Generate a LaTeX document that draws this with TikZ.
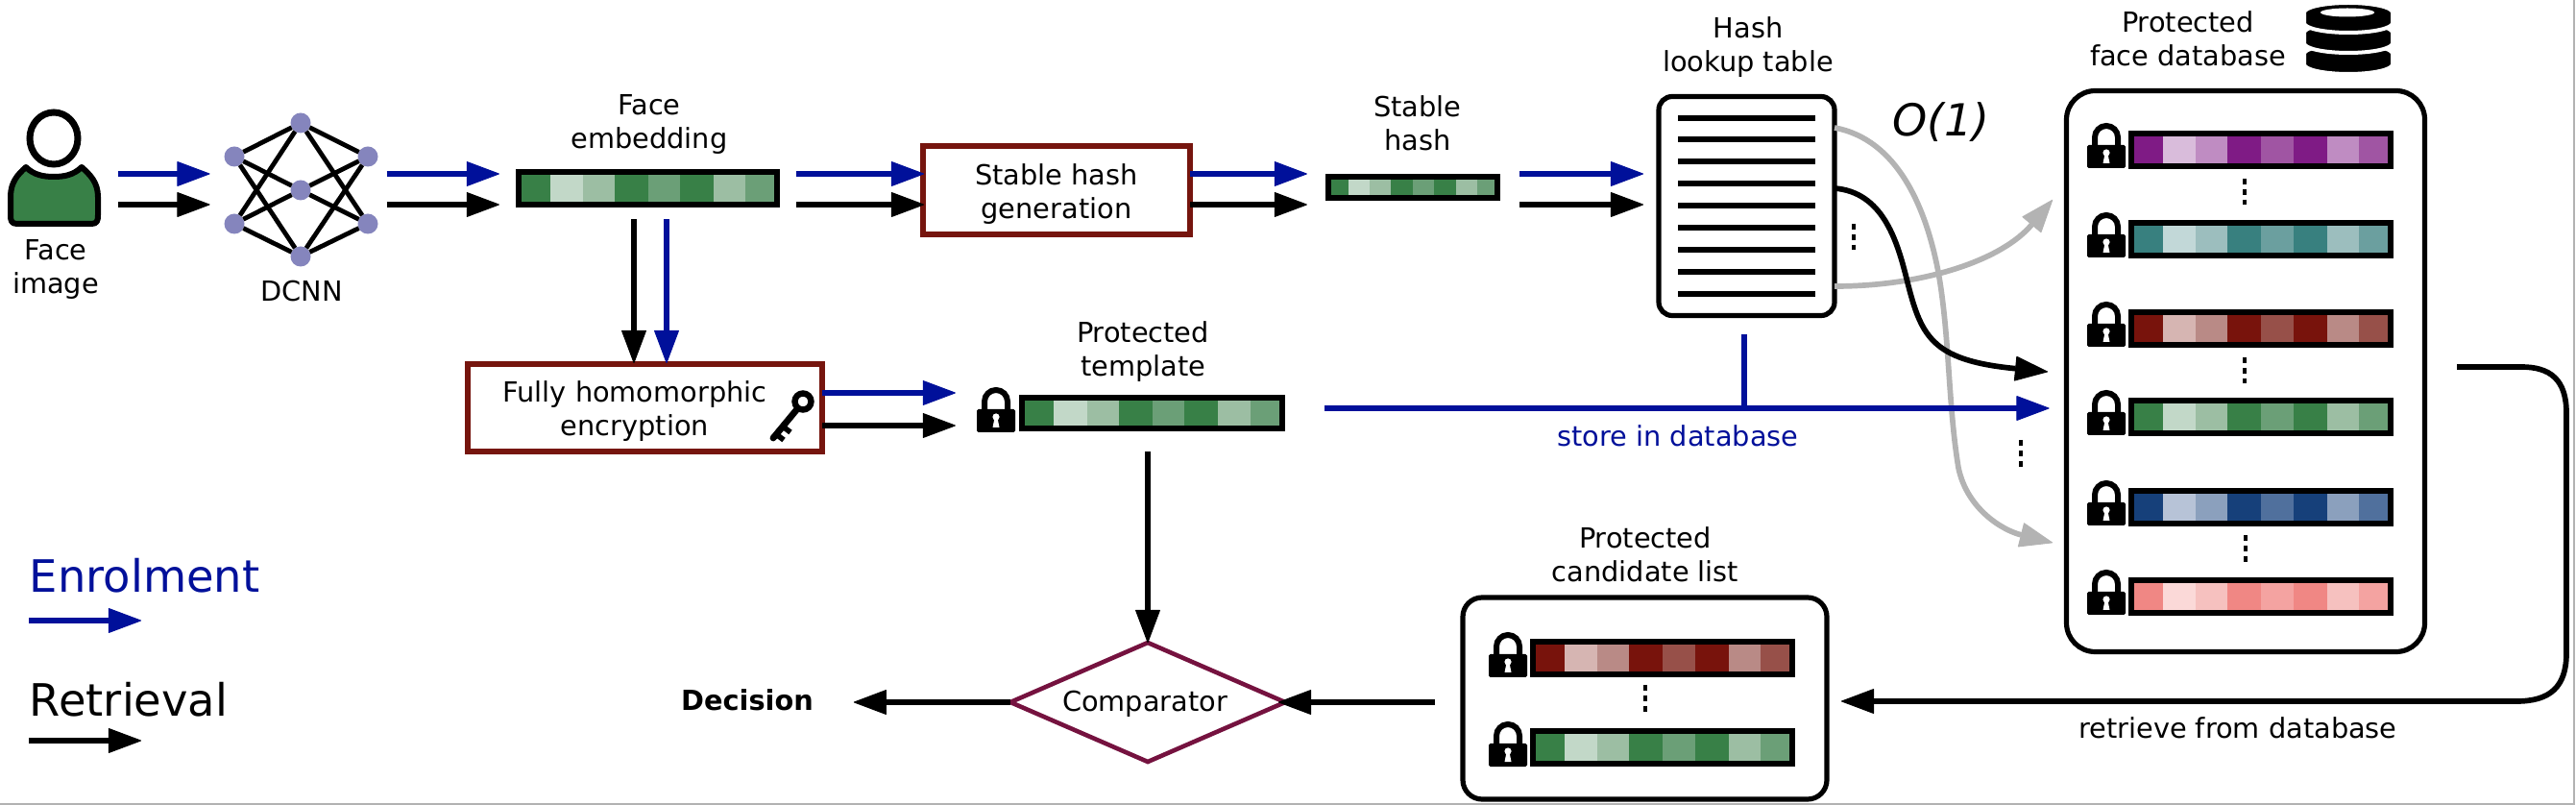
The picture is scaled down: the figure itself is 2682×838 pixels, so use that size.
\documentclass[tikz,border=0pt]{standalone}
\usepackage{fontspec}
\setmainfont{DejaVu Sans}
\usetikzlibrary{arrows.meta,shapes.geometric,fit}
\definecolor{enr}{HTML}{00109A}
\definecolor{boxred}{HTML}{76150E}
\definecolor{diamondc}{HTML}{75123F}
\definecolor{nncol}{HTML}{8585BD}
\definecolor{grayc}{HTML}{B3B3B3}
\definecolor{gA}{HTML}{388047}\definecolor{gB}{HTML}{C2D8C8}\definecolor{gC}{HTML}{9CBEA3}\definecolor{gD}{HTML}{6B9F77}
\definecolor{pA}{HTML}{7F1B85}\definecolor{pB}{HTML}{D9BCDB}\definecolor{pC}{HTML}{BF8CC2}\definecolor{pD}{HTML}{A055A3}
\definecolor{tA}{HTML}{38807F}\definecolor{tB}{HTML}{C2D8D8}\definecolor{tC}{HTML}{9CBEBE}\definecolor{tD}{HTML}{6B9F9F}
\definecolor{rA}{HTML}{78130C}\definecolor{rB}{HTML}{D6B5B2}\definecolor{rC}{HTML}{B98A86}\definecolor{rD}{HTML}{975049}
\definecolor{bA}{HTML}{16407A}\definecolor{bB}{HTML}{B7C3D7}\definecolor{bC}{HTML}{8BA0BD}\definecolor{bD}{HTML}{50709D}
\definecolor{kA}{HTML}{F08784}\definecolor{kB}{HTML}{FBD9D8}\definecolor{kC}{HTML}{F6C1BF}\definecolor{kD}{HTML}{F4A3A1}
\tikzset{
  x=0.5pt,y=-0.5pt,
  every node/.style={inner sep=0pt,outer sep=0pt},
  lab/.style={align=center,font=\fontsize{14.4pt}{17.5pt}\selectfont},
  tipr/.style={-{Triangle[length=17.5pt,width=13pt,line width=0.5pt,round]}},
  enrol/.style={draw=enr,line width=2.85pt,tipr},
  retr/.style={draw=black,line width=2.85pt,tipr},
  grayarrow/.style={draw=grayc,line width=2.85pt,tipr},
  redbox/.style={draw=boxred,line width=2.85pt,fill=white,rectangle},
  barframe/.style={draw=black,line width=2.85pt,rectangle},
  nnode/.style={circle,fill=nncol,minimum size=10.5pt},
  nnedge/.style={draw=black,line width=2.4pt},
  holder/.style={rounded corners=13pt,draw=black,line width=2.6pt,rectangle},
  dotsv/.style={draw=black,line width=2pt,dash pattern=on 3.2pt off 2.2pt},
}
\newcommand\cellbar[6]{%
  \pgfmathsetmacro\cbw{#4-#2}
  \foreach \cbp/\cbc in {0/A,.131/B,.2545/C,.3745/A,.5/D,.622/A,.749/C,.869/D}{
    \fill[fill=#6\cbc] ({#2+\cbp*\cbw},#3) rectangle (#4,#5);}
  \node[barframe,minimum width={(#4-#2-5.7)*0.5pt},minimum height={(#5-#3-5.7)*0.5pt}] (#1) at ({(#2+#4)/2},{(#3+#5)/2}) {};
}
\newcommand\lockat[2]{%
  \begin{scope}[shift={(#1,#2)}]
    \fill[black,rounded corners=0.8pt] (0,23) rectangle (40,47);
    \draw[black,line width=3pt] (8,26) -- (8,15) arc[start angle=180,end angle=360,radius=12] -- (32,26);
    \fill[white] (20,31) circle[radius=3.6];
    \fill[white] (18.5,32) -- (21.5,32) -- (23.5,42) -- (16.5,42) -- cycle;
  \end{scope}}
\newcommand\diskat[1]{%
  \draw[draw=white,fill=black,line width=2pt] (2399,#1) -- (2399,#1+11) arc[start angle=180,end angle=0,x radius=46,y radius=10] -- (2491,#1) arc[start angle=0,end angle=-180,x radius=46,y radius=10] -- cycle;}
\begin{document}
\begin{tikzpicture}
\useasboundingbox (0,0) rectangle (2682,838);
\fill[white] (0,0) rectangle (2682,838);
\draw[gray!60,line width=1pt] (0,836.5) -- (2680,836.5) -- (2680,0);
% helper coordinates for the two parallel flows
\coordinate (en) at (0,181);
\coordinate (re) at (0,213);
% person
\node[minimum width=49.5pt,minimum height=61pt] (person) at (56.5,175.5) {};
\draw[black,line width=3pt,fill=gA,line join=round] (18,233) .. controls (12,233) and (11,230) .. (11,224) -- (11,205) .. controls (11,190) and (18,182) .. (27,174) .. controls (35,182) and (45,184) .. (56,184) .. controls (67,184) and (77,182) .. (85,174) .. controls (94,182) and (102,190) .. (102,205) -- (102,224) .. controls (102,230) and (101,233) .. (95,233) -- cycle;
\draw[black,line width=3.5pt,fill=white] (56,144) ellipse[x radius=25,y radius=27];
\node[lab] (lface) at (58,281) {Face\\image};
% network
\node[nnode] (n1) at (313,128) {};
\node[nnode] (n2) at (244,163) {};
\node[nnode] (n3) at (383,163) {};
\node[nnode] (n4) at (313,198) {};
\node[nnode] (n5) at (244,233) {};
\node[nnode] (n6) at (383,233) {};
\node[nnode] (n7) at (313,267) {};
\foreach \na/\nb in {n1/n2,n1/n3,n1/n5,n1/n6,n7/n2,n7/n3,n7/n5,n7/n6,n4/n2,n4/n3,n4/n5,n4/n6}
  \draw[nnedge] (\na) -- (\nb);
\node[fit=(n1)(n2)(n3)(n5)(n6)(n7)] (dcnn) {};
\node[lab] (ldcnn) at (314,303) {DCNN};
% embedding
\cellbar{emb}{537}{176}{812}{216}{g}
\node[lab] (lemb) at (676,130) {Face\\embedding};
\draw[enrol,shorten <=8.5pt,shorten >=7.5pt] (person.east |- en) -- (dcnn.west |- en);
\draw[retr,shorten <=8.5pt,shorten >=7.5pt] (person.east |- re) -- (dcnn.west |- re);
\draw[enrol,shorten <=4.5pt,shorten >=10pt] (dcnn.east |- en) -- (emb.west |- en);
\draw[retr,shorten <=4.5pt,shorten >=10pt] (dcnn.east |- re) -- (emb.west |- re);
% stable hash generation
\node[redbox,minimum width=139pt,minimum height=46pt] (gen) at (1100,198) {};
\draw[enrol,shorten <=10pt,shorten >=-0.5pt] (emb.east |- en) -- (gen.west |- en);
\draw[retr,shorten <=10pt,shorten >=-0.5pt] (emb.east |- re) -- (gen.west |- re);
\node[lab] (lgen) at (1100,202) {Stable hash\\generation};
% stable hash
\cellbar{hash}{1380}{181}{1562}{209}{g}
\node[lab] (lhash) at (1476,128) {Stable\\hash};
\draw[enrol,shorten >=11pt] (gen.east |- en) -- (hash.west |- en);
\draw[retr,shorten >=11pt] (gen.east |- re) -- (hash.west |- re);
% lookup table
\node[holder,rounded corners=7pt,minimum width=91.5pt,minimum height=114pt] (lookup) at (1818.5,214.5) {};
\foreach \ly in {123,145,168,191,214,237,260,283,306}
  \draw[black,line width=3pt] (1747,\ly) -- (1890,\ly);
\node[lab] (llook) at (1820,49) {Hash\\lookup table};
\draw[enrol,shorten <=11.5pt,shorten >=8pt] (hash.east |- en) -- (lookup.west |- en);
\draw[retr,shorten <=11.5pt,shorten >=8pt] (hash.east |- re) -- (lookup.west |- re);
\node[font=\fontsize{23pt}{27pt}\selectfont\itshape] (o1) at (2021,127) {O(1)};
\draw[dotsv] (1930,233) -- (1930,260);
% database
\node[holder,rounded corners=15pt,minimum width=186.5pt,minimum height=292pt] (db) at (2338,386.5) {};
\node[lab] (ldb) at (2278,40) {Protected\\face database};
\diskat{56}\diskat{34}\diskat{13}
\fill[white] (2444,13) ellipse[x radius=28,y radius=4.5];
\foreach \ly/\cp in {136/p,229/t,322/r,414/g,508/b,601/k}{
  \cellbar{row\cp}{2216}{\ly}{2492}{\ly+40}{\cp}
  \lockat{2173}{\ly-8}
}
\draw[dotsv] (2337,186) -- (2337,213);
\draw[dotsv] (2337,372) -- (2337,399);
\draw[dotsv] (2338,557) -- (2338,586);
\draw[dotsv] (2104,458) -- (2104,486);
% table to database curves
\draw[grayarrow] (lookup.east |- 0,133) .. controls (1975,145) and (2005,215) .. (2018,283) .. controls (2030,350) and (2028,420) .. (2039,487) .. controls (2048,530) and (2085,552) .. (2137,565);
\draw[grayarrow] (lookup.east |- 0,298) .. controls (2005,298) and (2085,270) .. (2137,208);
\draw[retr] (lookup.east |- 0,196) .. controls (1960,200) and (1975,250) .. (1985,290) .. controls (2000,350) and (2010,375) .. (2132,387);
% FHE
\node[redbox,minimum width=184.5pt,minimum height=45.5pt] (fhe) at (671.5,424.5) {};
\node[lab] (lfhe) at (661,428) {Fully homomorphic\\encryption};
\draw[black,line width=3.2pt] (836,418) circle[radius=8.5];
\draw[black,line width=3.4pt,line cap=round] (829,427) -- (805,456);
\draw[black,line width=2.8pt] (815,444) -- (823,450);
\draw[black,line width=2.8pt] (808,452) -- (816,458);
\draw[retr,shorten <=7.5pt,shorten >=0.5pt] (emb.south -| 660,0) -- (fhe.north -| 660,0);
\draw[enrol,line width=2.6pt,shorten <=7.5pt,shorten >=0.5pt] (emb.south -| 694,0) -- (fhe.north -| 694,0);
% protected template
\lockat{1017}{403}
\cellbar{tmpl}{1061}{411}{1338}{449}{g}
\node[lab] (ltmpl) at (1190,366) {Protected\\template};
\draw[enrol,line width=2.85pt,shorten >=34.5pt] (fhe.east |- 0,409) -- (tmpl.west |- 0,409);
\draw[retr,shorten >=34.5pt] (fhe.east |- 0,443) -- (tmpl.west |- 0,443);
% store
\coordinate (tee) at (1816,425);
\coordinate (teetop) at (1816,348);
\draw[draw=enr,line width=2.7pt] (teetop) -- (tee);
\draw[enrol,line width=2.7pt,shorten <=22pt,shorten >=9pt] (tmpl.east |- tee) -- (db.west |- tee);
\node[lab,text=enr] (lstore) at (1747,454) {store in database};
% candidate list
\node[holder,rounded corners=10pt,minimum width=189.5pt,minimum height=105pt] (cand) at (1712.5,727) {};
\node[lab] (lcand) at (1713,577) {Protected\\candidate list};
\cellbar{c1}{1593}{665}{1869}{705}{r}
\lockat{1550}{658}
\cellbar{c2}{1593}{758}{1869}{798}{g}
\lockat{1550}{751}
\draw[dotsv] (1713,713) -- (1713,743);
% retrieve
\coordinate (dbout) at (2558,382);
\draw[retr] (dbout) -- (2625,382) .. controls (2655,382) and (2672,395) .. (2672,430) -- (2672,680) .. controls (2672,715) and (2655,730) .. (2620,730) -- (1917,730);
\node[lab] (lret) at (2330,758) {retrieve from database};
% comparator
\node[diamond,aspect=2.3,draw=diamondc,line width=2.3pt,minimum width=143pt,minimum height=62pt,fill=white] (comp) at (1195,731) {};
\node[lab] (lcomp) at (1192,733) {Comparator};
\draw[retr,shorten <=12pt,shorten >=0pt] (comp.north |- tmpl.south) -- (comp.north);
\draw[retr,shorten <=14.5pt,shorten >=-3.5pt] (cand.west |- comp) -- (comp.east);
\node[font=\fontsize{14.4pt}{17pt}\selectfont\bfseries] (ldec) at (778,729) {Decision};
\draw[retr,shorten >=21pt] (comp.west) -- (ldec.east |- comp.west);
% legend
\node[anchor=west,font=\fontsize{23.2pt}{27pt}\selectfont,text=enr] (lenr) at (31,599) {Enrolment};
\node[anchor=west,font=\fontsize{23.2pt}{27pt}\selectfont] (lrtr) at (31,728) {Retrieval};
\coordinate (le1) at (30,646); \coordinate (le2) at (147,646);
\coordinate (lr1) at (30,771); \coordinate (lr2) at (147,771);
\draw[enrol] (le1) -- (le2);
\draw[retr] (lr1) -- (lr2);
\end{tikzpicture}
\end{document}
